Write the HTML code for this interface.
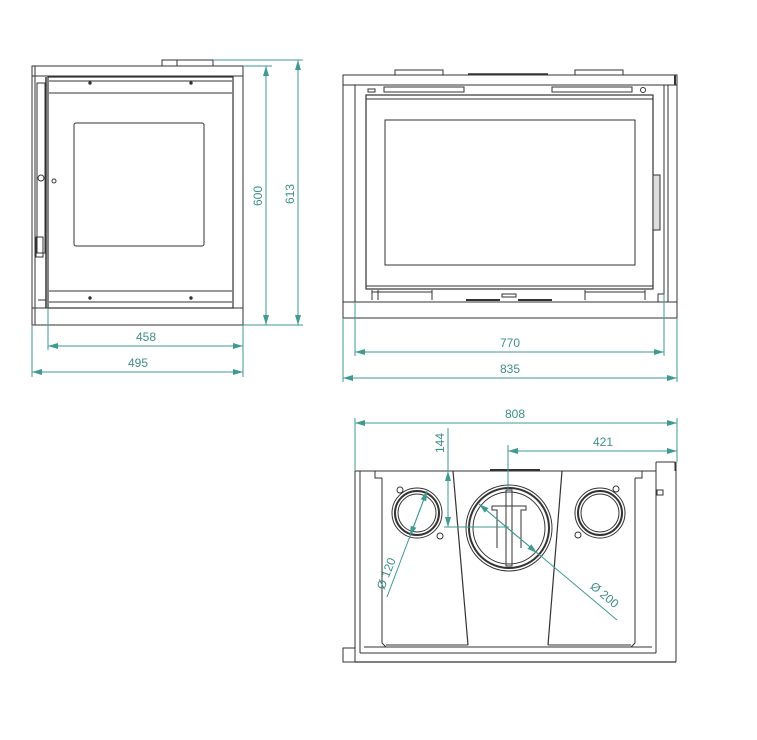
<!DOCTYPE html>
<html><head><meta charset="utf-8"><style>
html,body{margin:0;padding:0;background:#fff;}
svg{display:block;}
text{font-family:"Liberation Sans",sans-serif;font-size:12px;fill:#3f8f89;}
</style></head><body>
<svg width="757" height="740" viewBox="0 0 757 740" xmlns="http://www.w3.org/2000/svg">
<defs>
<marker id="a" viewBox="0 0 10 6" refX="10" refY="3" markerWidth="10" markerHeight="6" orient="auto-start-reverse" markerUnits="userSpaceOnUse"><path d="M0,0 L10,3 L0,6 z" fill="#3f9a92"/></marker>
</defs>
<g fill="none" stroke="#333" stroke-width="1">
<!-- LEFT VIEW -->
<rect x="162" y="60" width="51" height="6"/>
<line x1="177" y1="60" x2="177" y2="66"/>
<rect x="32" y="66" width="211" height="259"/>
<line x1="32" y1="76" x2="243" y2="76"/>
<line x1="35" y1="66" x2="35" y2="325"/>
<line x1="32" y1="308" x2="243" y2="308"/>
<rect x="48" y="77" width="185" height="231" stroke-width="1.2"/>
<line x1="46" y1="77" x2="46" y2="308" stroke-width="1.5"/>
<line x1="49" y1="81" x2="232" y2="81"/>
<line x1="49" y1="93" x2="232" y2="93"/>
<line x1="49" y1="291" x2="232" y2="291"/>
<line x1="49" y1="302" x2="232" y2="302"/>
<rect x="74" y="123" width="130" height="123" rx="2"/>
<rect x="37" y="83" width="8" height="170"/>
<circle cx="41" cy="178" r="3"/>
<circle cx="54" cy="181" r="2"/>
<rect x="36" y="237" width="7" height="20"/>
<line x1="38" y1="300" x2="46" y2="300"/>
<circle cx="90" cy="83" r="1.2" fill="#333"/>
<circle cx="191" cy="83" r="1.2" fill="#333"/>
<circle cx="90" cy="298" r="1.2" fill="#333"/>
<circle cx="191" cy="298" r="1.2" fill="#333"/>

<!-- MIDDLE VIEW -->
<rect x="395" y="70" width="48" height="5"/>
<rect x="575" y="70" width="48" height="5"/>
<line x1="468" y1="74" x2="548" y2="74" stroke-width="1.5"/>
<rect x="343" y="75" width="334" height="243"/>
<line x1="343" y1="85" x2="677" y2="85"/>
<line x1="343" y1="302" x2="677" y2="302"/>
<rect x="343" y="85" width="12" height="217"/>
<line x1="675" y1="75" x2="675" y2="85" stroke-width="2"/>
<rect x="384" y="87" width="80" height="5"/>
<rect x="552" y="87" width="80" height="5"/>
<rect x="368" y="89" width="7" height="3"/>
<circle cx="643" cy="90" r="2.5"/>
<rect x="366" y="95" width="287" height="194" stroke-width="1.2"/>
<line x1="366" y1="99" x2="653" y2="99"/>
<line x1="366" y1="286" x2="653" y2="286"/>
<rect x="385" y="120" width="250" height="145"/>
<line x1="664" y1="85" x2="664" y2="294"/>
<line x1="668" y1="85" x2="668" y2="302"/>
<rect x="653" y="175" width="7" height="55" fill="#ddd"/>
<path d="M664 294 L658 294 L658 302"/>
<path d="M372 290 v10 M378 290 v10 M372 292 h60 M432 290 v10 M585 290 v10 M645 290 v10 M585 292 h60"/>
<line x1="466" y1="300" x2="500" y2="300" stroke-width="2"/>
<line x1="518" y1="300" x2="552" y2="300" stroke-width="2"/>
<rect x="502" y="294" width="14" height="3"/>

<!-- BOTTOM VIEW -->
<path d="M355 471 H656 M656 462 H675 V471 M656 462 V471"/>
<line x1="355" y1="471" x2="355" y2="662"/>
<line x1="676" y1="462" x2="676" y2="662"/>
<line x1="355" y1="662" x2="676" y2="662" stroke-width="1.2"/>
<line x1="360" y1="471" x2="360" y2="653"/>
<line x1="656" y1="471" x2="656" y2="653"/>
<line x1="360" y1="653" x2="656" y2="653"/>
<line x1="364" y1="647" x2="652" y2="647"/>
<rect x="343" y="648" width="12" height="14"/>
<path d="M382 478 L375 478 L375 471 M382 478 V643 L386 647"/>
<path d="M635 478 L642 478 L642 471 M635 478 V643 L631 647"/>
<line x1="453" y1="471" x2="468" y2="645" stroke-width="1.2"/>
<line x1="562" y1="471" x2="548" y2="645" stroke-width="1.2"/>
<path d="M386 645 H468 M548 645 H631"/>
<line x1="490" y1="470" x2="540" y2="470" stroke-width="2"/>
<path d="M657 490 h6 v5 h-6 z"/>
<!-- left flue -->
<circle cx="417" cy="513" r="25"/>
<circle cx="417" cy="513" r="22" stroke-width="2"/>
<circle cx="417" cy="513" r="19"/>
<circle cx="400" cy="490" r="3"/><circle cx="440" cy="536" r="3"/>
<!-- right flue -->
<circle cx="600" cy="513" r="25"/>
<circle cx="600" cy="513" r="22" stroke-width="2"/>
<circle cx="600" cy="513" r="19"/>
<circle cx="616" cy="489" r="3"/><circle cx="578" cy="535" r="3"/>
<!-- center flue -->
<circle cx="509" cy="528" r="43"/>
<circle cx="509" cy="528" r="40" stroke-width="2"/>
<circle cx="509" cy="528" r="36"/>
<path d="M497 548 V510 H492 V506 H526 V510 H521 V548"/>
<rect x="506" y="490" width="6" height="76"/>
</g>

<!-- DIMENSIONS -->
<g stroke="#3f9a92" stroke-width="1" fill="none">
<!-- left view -->
<line x1="243" y1="66" x2="272" y2="66"/>
<line x1="213" y1="60" x2="303" y2="60"/>
<line x1="243" y1="325" x2="303" y2="325"/>
<line x1="266" y1="66" x2="266" y2="325" marker-start="url(#a)" marker-end="url(#a)"/>
<line x1="298" y1="60" x2="298" y2="325" marker-start="url(#a)" marker-end="url(#a)"/>
<line x1="48" y1="308" x2="48" y2="350"/>
<line x1="32" y1="325" x2="32" y2="377"/>
<line x1="243" y1="325" x2="243" y2="377"/>
<line x1="48" y1="346" x2="243" y2="346" marker-start="url(#a)" marker-end="url(#a)"/>
<line x1="32" y1="372" x2="243" y2="372" marker-start="url(#a)" marker-end="url(#a)"/>
<!-- middle -->
<line x1="355" y1="302" x2="355" y2="356"/>
<line x1="664" y1="294" x2="664" y2="356"/>
<line x1="343" y1="318" x2="343" y2="382"/>
<line x1="677" y1="318" x2="677" y2="382"/>
<line x1="355" y1="352" x2="664" y2="352" marker-start="url(#a)" marker-end="url(#a)"/>
<line x1="343" y1="378" x2="677" y2="378" marker-start="url(#a)" marker-end="url(#a)"/>
<!-- bottom -->
<line x1="355" y1="418" x2="355" y2="471"/>
<line x1="677" y1="418" x2="677" y2="462"/>
<line x1="355" y1="423" x2="677" y2="423" marker-start="url(#a)" marker-end="url(#a)"/>
<line x1="508" y1="445" x2="508" y2="490"/>
<line x1="508" y1="451" x2="677" y2="451" marker-start="url(#a)" marker-end="url(#a)"/>
<line x1="448" y1="428" x2="448" y2="527"/>
<line x1="448" y1="471" x2="448" y2="527" marker-start="url(#a)" marker-end="url(#a)"/>
<line x1="444" y1="527" x2="509" y2="527"/>
<line x1="387" y1="597" x2="427" y2="491"/>
<line x1="410" y1="536" x2="427" y2="491" marker-start="url(#a)" marker-end="url(#a)"/>
<line x1="479" y1="504" x2="617" y2="620"/>
<line x1="479" y1="504" x2="537" y2="553" marker-start="url(#a)" marker-end="url(#a)"/>
</g>
<g>
<text x="146" y="341" text-anchor="middle">458</text>
<text x="138" y="367" text-anchor="middle">495</text>
<text transform="translate(262,196) rotate(-90)" text-anchor="middle">600</text>
<text transform="translate(294,194) rotate(-90)" text-anchor="middle">613</text>
<text x="510" y="347" text-anchor="middle">770</text>
<text x="510" y="373" text-anchor="middle">835</text>
<text x="515" y="418" text-anchor="middle">808</text>
<text x="603" y="446" text-anchor="middle">421</text>
<text transform="translate(444,443) rotate(-90)" text-anchor="middle">144</text>
<text transform="translate(390,575) rotate(-69)" text-anchor="middle">Ø 120</text>
<text transform="translate(602,598) rotate(40)" text-anchor="middle">Ø 200</text>
</g>
</svg>
</body></html>
